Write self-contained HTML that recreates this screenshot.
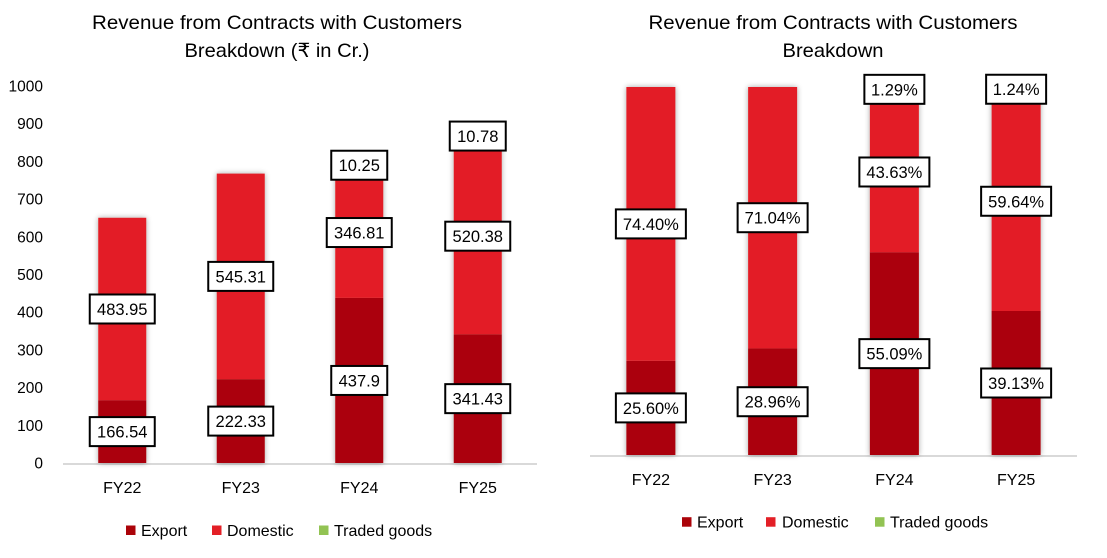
<!DOCTYPE html>
<html><head><meta charset="utf-8"><style>
body{margin:0;background:#fff;width:1107px;height:558px;overflow:hidden}
svg{display:block;font-family:"Liberation Sans",sans-serif}
</style></head><body>
<svg id="c" width="1107" height="558">
<defs><filter id="sh" x="-30%" y="-5%" width="160%" height="110%"><feGaussianBlur in="SourceAlpha" stdDeviation="3"/><feComponentTransfer><feFuncA type="linear" slope="0.35"/></feComponentTransfer><feMerge><feMergeNode/><feMergeNode in="SourceGraphic"/></feMerge></filter></defs>
</svg>
<script>
const categories=["FY22","FY23","FY24","FY25"];
const exportVals=[166.54,222.33,437.9,341.43];
const domesticVals=[483.95,545.31,346.81,520.38];
const tradedVals=[0,0,10.25,10.78];
const exportPct=[25.60,28.96,55.09,39.13];
const domesticPct=[74.40,71.04,43.63,59.64];
const tradedPct=[0,0,1.29,1.24];
const yTicks=[0,100,200,300,400,500,600,700,800,900,1000];
const COL=["#AB0309","#E31F26","#92C353"];
const NAMES=["Export","Domestic","Traded goods"];
const svg=document.getElementById('c');
const NS="http://www.w3.org/2000/svg";
function mk(t,a,txt){const e=document.createElementNS(NS,t);for(const k in a)e.setAttribute(k,a[k]);if(txt!==undefined)e.textContent=txt;svg.appendChild(e);return e;}
function chart(cfg){
  const y=v=>cfg.y0-(v/cfg.max)*(cfg.y0-cfg.yTop);
  const step=(cfg.x1-cfg.x0)/categories.length;
  cfg.title.forEach((t,i)=>{const e=mk('text',{x:cfg.tx,y:29+i*28,'text-anchor':'middle','font-size':19.5,fill:'#000',textLength:cfg.tl[i],lengthAdjust:'spacingAndGlyphs'},t);
    
    });
  if(cfg.ticks){yTicks.forEach(v=>{const e=mk('text',{x:43,y:y(v)+5.5,'text-anchor':'end','font-size':15.5,fill:'#000'},v);
    
    });}
  const ax=mk('line',{x1:cfg.x0,x2:cfg.x1,y1:cfg.y0+1,y2:cfg.y0+1,stroke:'#d9d9d9','stroke-width':2});
  
  
  const labels=[];
  categories.forEach((c,i)=>{
    const cx=cfg.x0+step*(i+0.5);
    const w=cfg.bw;
    let base=0;
    const g=document.createElementNS(NS,'g');g.setAttribute('filter','url(#sh)');svg.appendChild(g);
    
    
    cfg.series.forEach((s,k)=>{
      const v=s[i];
      if(v>0){
        const r=document.createElementNS(NS,'rect');
        r.setAttribute('x',cx-w/2);r.setAttribute('width',w);
        r.setAttribute('y',y(base+v));r.setAttribute('height',y(base)-y(base+v));
        r.setAttribute('fill',COL[k]);
        
        
        g.appendChild(r);
        labels.push({cx,cy:y(base+v/2),t:cfg.fmt(v),k,c});
      }
      base+=v;
    });
    const t=mk('text',{x:cx,y:cfg.y0+30,'text-anchor':'middle','font-size':16,fill:'#000'},c);
    
    
  });
  labels.forEach(l=>{
    const bw=l.t.length*cfg.cw+cfg.pad;
    const r=mk('rect',{x:l.cx-bw/2,y:l.cy-14.5,width:bw,height:29,fill:'#fff',stroke:'#000','stroke-width':2});
    
    
    const t=mk('text',{x:l.cx,y:l.cy+6,'text-anchor':'middle','font-size':16.5,fill:'#000'},l.t);
    
    
  });
  cfg.legend.forEach((lx,k)=>{
    const r=mk('rect',{x:lx,y:cfg.ly-4.5,width:9.5,height:9.5,fill:COL[k]});
    
    
    const t=mk('text',{x:cfg.lt[k],y:cfg.ly+6,'font-size':16,fill:'#000'},NAMES[k]);
    
    
  });
}
chart({id:'left',title:['Revenue from Contracts with Customers','Breakdown (₹ in Cr.)'],tl:[370,185],tx:277,ticks:true,
  x0:63,x1:537,y0:463,yTop:86,max:1000,bw:48,series:[exportVals,domesticVals,tradedVals],
  fmt:v=>String(v),cw:9,pad:11,legend:[126,212,319],lt:[141,227,334],ly:530});
chart({id:'right',title:['Revenue from Contracts with Customers','Breakdown'],tl:[369,101],tx:833,ticks:false,
  x0:590,x1:1077,y0:455,yTop:87,max:100,bw:49,series:[exportPct,domesticPct,tradedPct],
  fmt:v=>v.toFixed(2)+'%',cw:10,pad:10,legend:[682,766,875],lt:[697,782,890],ly:521.7});
</script>
</body></html>
